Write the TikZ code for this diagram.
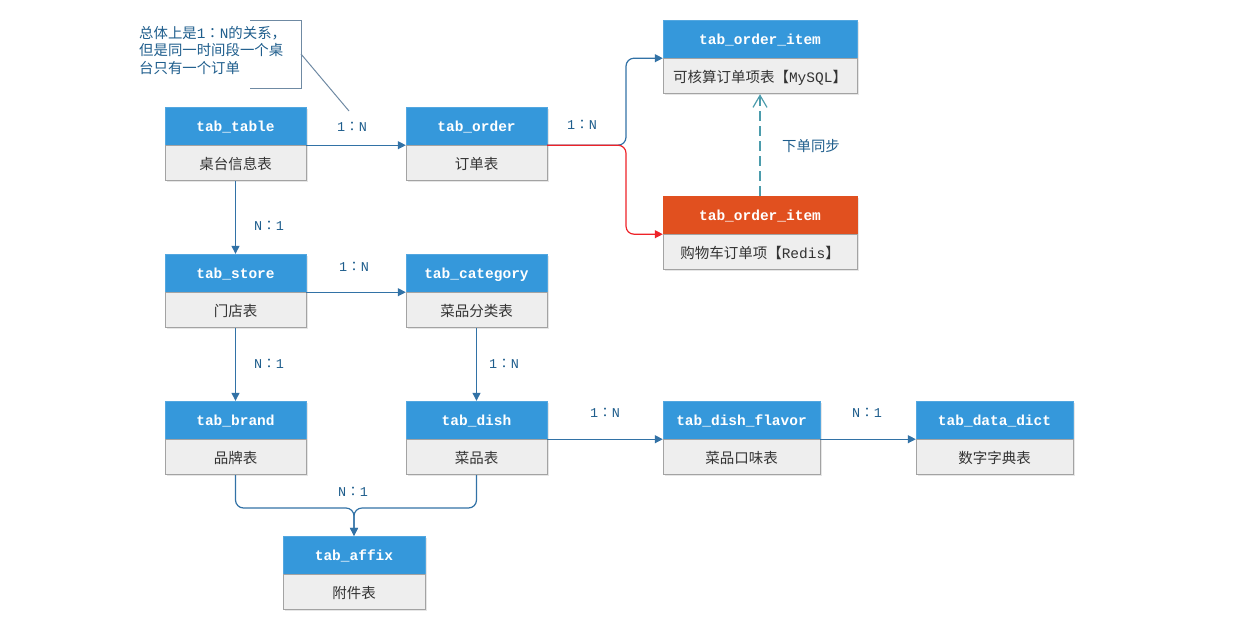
\documentclass[tikz,border=0pt]{standalone}
\usepackage{fontspec}
\setmonofont{Liberation Mono}
\newfontfamily\cjk{Noto Sans CJK SC}
\newfontfamily\cjktc{Noto Sans CJK TC}
\usetikzlibrary{positioning}
\usetikzlibrary{arrows.meta}
\usetikzlibrary{shadows}
\definecolor{hdblue}{HTML}{3598DB}
\definecolor{hdorange}{HTML}{E1501F}
\definecolor{bdgray}{HTML}{EEEEEE}
\definecolor{bdline}{HTML}{A3A3A3}
\definecolor{linkblue}{HTML}{3272A6}
\definecolor{linkred}{HTML}{EE2228}
\definecolor{labblue}{HTML}{1E5D8C}
\definecolor{syncteal}{HTML}{4C9CAC}
\definecolor{notegray}{HTML}{6F8AA3}
\newcommand{\relab}[2]{{\ttfamily #1}{\cjktc ：}{\ttfamily #2}}

\begin{document}
\begin{tikzpicture}[x=1pt,y=-1pt,
hd/.style={fill=hdblue,draw=hdblue!85!white,text=white,minimum width=141pt,minimum height=38pt,inner sep=0pt,
  text height=10pt,text depth=-9pt,
  font=\fontsize{14.5}{16}\ttfamily\bfseries,drop shadow={shadow xshift=1.5pt,shadow yshift=-1.5pt,opacity=0.2}},
hdred/.style={hd,fill=hdorange,draw=hdorange},
bd/.style={fill=bdgray,draw=bdline,line width=1pt,text=black!80,minimum width=141pt,minimum height=35pt,inner sep=0pt,
  text height=12pt,text depth=-2pt,
  font=\fontsize{14.5}{16}\cjk,drop shadow={shadow xshift=1.5pt,shadow yshift=-1.5pt,opacity=0.2}},
link/.style={draw=linkblue,line width=1.2pt,-{Triangle[length=8pt,width=8pt]}},
card/.style={text=labblue,font=\fontsize{13.5}{15}\selectfont},
note/.style={text=labblue,align=left,inner sep=0pt,font=\fontsize{14.4}{17.5}\cjk}]
\useasboundingbox (0,0) rectangle (1238,619);

% tables
\node[hd] (table) at (235.5,126) {tab\_table};
\node[bd,below=0pt of table] (table-b) {桌台信息表};
\node[hd] (order) at (476.5,126) {tab\_order};
\node[bd,below=0pt of order] (order-b) {订单表};
\node[hd,minimum width=194pt] (item1) at (760,39) {tab\_order\_item};
\node[bd,minimum width=194pt,below=0pt of item1] (item1-b) {可核算订单项表【{\ttfamily MySQL}】};
\node[hdred,minimum width=194pt] (item2) at (760,215) {tab\_order\_item};
\node[bd,minimum width=194pt,below=0pt of item2] (item2-b) {购物车订单项【{\ttfamily Redis}】};
\node[hd] (store) at (235.5,273) {tab\_store};
\node[bd,below=0pt of store] (store-b) {门店表};
\node[hd] (category) at (476.5,273) {tab\_category};
\node[bd,below=0pt of category] (category-b) {菜品分类表};
\node[hd] (brand) at (235.5,420) {tab\_brand};
\node[bd,below=0pt of brand] (brand-b) {品牌表};
\node[hd] (dish) at (476.5,420) {tab\_dish};
\node[bd,below=0pt of dish] (dish-b) {菜品表};
\node[hd,minimum width=157pt] (flavor) at (741.5,420) {tab\_dish\_flavor};
\node[bd,minimum width=157pt,below=0pt of flavor] (flavor-b) {菜品口味表};
\node[hd,minimum width=157pt] (dict) at (994.5,420) {tab\_data\_dict};
\node[bd,minimum width=157pt,below=0pt of dict] (dict-b) {数字字典表};
\node[hd,minimum width=142pt] (affix) at (354,555) {tab\_affix};
\node[bd,minimum width=142pt,below=0pt of affix] (affix-b) {附件表};

% note
\node[note,anchor=north west] (note) at (139,26) {总体上是{\ttfamily 1}{\cjktc ：}{\ttfamily N}的关系，\\但是同一时间段一个桌\\台只有一个订单};
\coordinate (nt) at (301,20);
\coordinate (nb) at (301,88);
\coordinate (nm) at (301,54);
\coordinate (callout) at (349,111);
\draw[notegray,line width=1pt] (250,20) -- (nt) -- (nb) -- (250,88);
\draw[notegray,line width=1pt] (nm) -- (callout);

% links
\coordinate (split) at (626,143);
\coordinate (join) at (354,508);
\draw[link] (table.south east) -- (order.south west);
\draw[link,rounded corners=8pt] (order.south east) -- (split |- order.south east) |- (item1.south west);
\draw[link,draw=linkred,rounded corners=8pt] (order.south east) -- (split |- order.south east) |- (item2.south west);
\draw[syncteal,line width=1.2pt,dash pattern=on 10pt off 5pt,-{Straight Barb[length=12pt,width=14pt]}] (item2.north) -- (item1-b.south);
\draw[link] (table-b.south) -- (store.north);
\draw[link] (store.south east) -- (category.south west);
\draw[link] (store-b.south) -- (brand.north);
\draw[link] (category-b.south) -- (dish.north);
\draw[link] (dish.south east) -- (flavor.south west);
\draw[link] (flavor.south east) -- (dict.south west);
\draw[link,rounded corners=8pt] (brand-b.south) |- (join) -- (affix.north);
\draw[link,rounded corners=8pt] (dish-b.south) |- (join) -- (affix.north);

% labels
\node[card] (l-order) at (352,127) {\relab{1}{N}};
\node[card] (l-item) at (582,125) {\relab{1}{N}};
\node[card,font=\fontsize{14.4}{16}\cjk] (l-sync) at (811,146) {下单同步};
\node[card] (l-store) at (269,226) {\relab{N}{1}};
\node[card] (l-category) at (354,267) {\relab{1}{N}};
\node[card] (l-brand) at (269,364) {\relab{N}{1}};
\node[card] (l-dish) at (504,364) {\relab{1}{N}};
\node[card] (l-flavor) at (605,413) {\relab{1}{N}};
\node[card] (l-dict) at (867,413) {\relab{N}{1}};
\node[card] (l-affix) at (353,492) {\relab{N}{1}};
\end{tikzpicture}
\end{document}
